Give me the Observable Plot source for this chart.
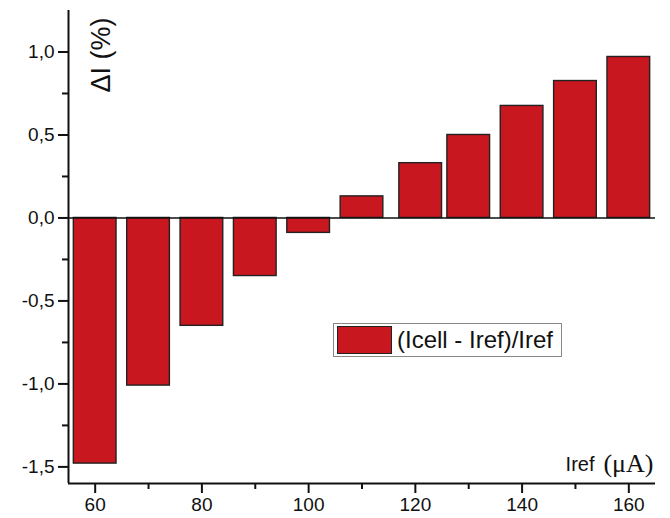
<!DOCTYPE html>
<html>
<head>
<meta charset="utf-8">
<script src="https://cdn.jsdelivr.net/npm/d3@7"></script>
<script src="https://cdn.jsdelivr.net/npm/@observablehq/plot@0.6"></script>
<style>
  html, body { margin: 0; padding: 0; background: #fff; }
  #wrap { position: relative; width: 670px; height: 518px; font-family: Arial, "Liberation Sans", sans-serif; }
  #legend { position: absolute; left: 333px; top: 323px; width: 227px; height: 32px; border: 1px solid #888; background: #fff; box-sizing: content-box; }
  #legend .sw { position: absolute; left: 3px; top: 2px; width: 53px; height: 26px; background: #C8171E; border: 1px solid #222; }
  #legend .lbl { position: absolute; left: 63px; top: 0px; line-height: 32px; font-size: 24px; color: #111; white-space: nowrap; }
</style>
</head>
<body>
<div id="wrap">
  <div id="chart"></div>
  <div id="legend"><div class="sw"></div><div class="lbl">(Icell - Iref)/Iref</div></div>
</div>
<script>
const iref = [60, 70, 80, 90, 100, 110, 121, 130, 140, 150, 160];
const deltaI = [-1.48, -1.01, -0.65, -0.35, -0.09, 0.13, 0.33, 0.50, 0.675, 0.825, 0.97];
const xMajorTicks = [60, 80, 100, 120, 140, 160];
const xMinorTicks = [70, 90, 110, 130, 150];
const yMajorTicks = [-1.5, -1.0, -0.5, 0.0, 0.5, 1.0];
const yMinorTicks = [-1.25, -0.75, -0.25, 0.25, 0.75];
const barHalfWidth = 4;

const data = iref.map((x, i) => ({x, v: deltaI[i]}));
const fmt = d => d3.format(".1f")(d).replace(".", ",").replace("\u2212", "-");

const chart = Plot.plot({
  width: 670,
  height: 518,
  marginLeft: 68,
  marginRight: 15,
  marginTop: 10,
  marginBottom: 35,
  style: {fontFamily: "Arial, 'Liberation Sans', sans-serif", fontSize: "19px", color: "#111", background: "#fff"},
  x: {domain: [55, 165]},
  y: {domain: [-1.6, 1.25]},
  marks: [
    Plot.rect(data, {x1: d => d.x - barHalfWidth, x2: d => d.x + barHalfWidth, y1: 0, y2: "v", fill: "#C8171E", stroke: "#222", strokeWidth: 1.4}),
    Plot.ruleY([0], {stroke: "#111", strokeWidth: 1.6}),
    Plot.ruleY([-1.6], {stroke: "#111", strokeWidth: 2}),
    Plot.ruleX([55], {stroke: "#111", strokeWidth: 2}),
    Plot.axisX({ticks: xMajorTicks, tickSize: 10, tickPadding: 4, tickFormat: d => String(d), strokeWidth: 2, label: null, fontSize: 19}),
    Plot.axisX({ticks: xMinorTicks, tickSize: 6, tickFormat: null, text: null, strokeWidth: 2, label: null}),
    Plot.axisY({ticks: yMajorTicks, tickSize: 10, tickPadding: 4, tickFormat: fmt, strokeWidth: 2, label: null, fontSize: 19}),
    Plot.axisY({ticks: yMinorTicks, tickSize: 6, tickFormat: null, text: null, strokeWidth: 2, label: null}),
    Plot.text(["\u0394I (%)"], {frameAnchor: "top-left", dx: 33, dy: 7, rotate: -90, textAnchor: "end", lineAnchor: "middle", fontSize: 27, fill: "#111"}),
    Plot.text(["(\u03bcA)"], {frameAnchor: "bottom-right", dx: -2, dy: -12, textAnchor: "end", lineAnchor: "bottom", fontSize: 26, fontFamily: "'Liberation Serif', 'Times New Roman', serif", fill: "#111"}),
    Plot.text(["Iref"], {frameAnchor: "bottom-right", dx: -61, dy: -13, textAnchor: "end", lineAnchor: "bottom", fontSize: 20, fill: "#111"})
  ]
});
document.getElementById("chart").appendChild(chart);
</script>
</body>
</html>
